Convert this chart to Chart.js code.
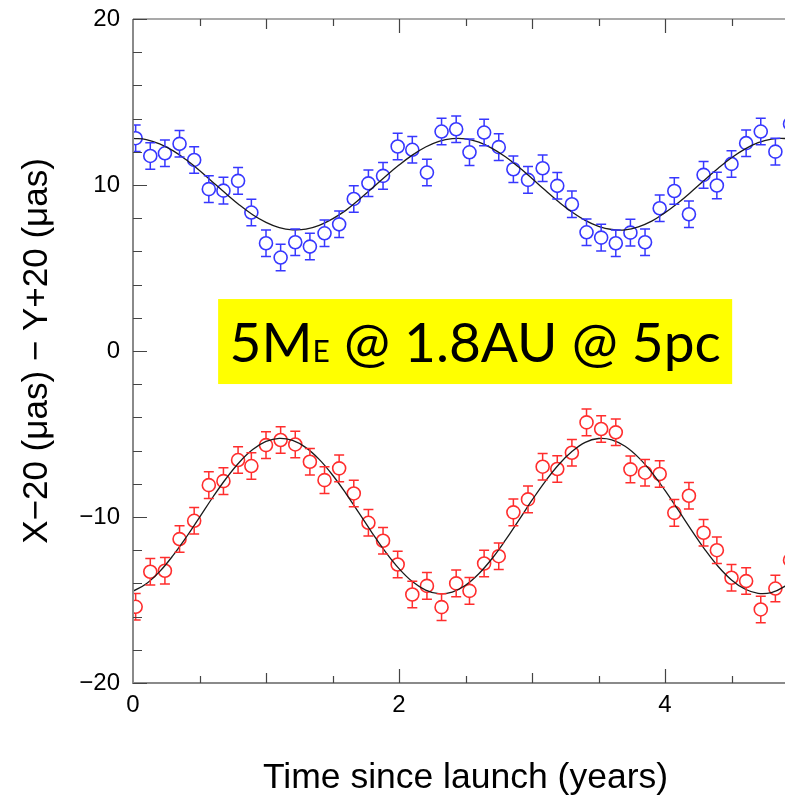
<!DOCTYPE html>
<html>
<head>
<meta charset="utf-8">
<title>Astrometric signal 5ME @ 1.8AU @ 5pc</title>
<script src="https://cdn.jsdelivr.net/npm/chart.js@4.4.1/dist/chart.umd.min.js"></script>
<style>
  html, body { margin: 0; padding: 0; background: #fff; overflow: hidden; }
  /* the figure's axis runs to 5 yr, a little past the right edge of the picture */
  #wrap { width: 785px; height: 803px; overflow: hidden; }
</style>
</head>
<body>
<div id="wrap"><canvas id="chart" width="798" height="803"></canvas></div>
<script>
// Epochs of the simulated observations (years since launch)
const times = [0.02, 0.13, 0.24, 0.35, 0.46, 0.57, 0.68, 0.79, 0.89, 1.00,
  1.11, 1.22, 1.33, 1.44, 1.55, 1.66, 1.77, 1.88, 1.99, 2.10,
  2.21, 2.32, 2.43, 2.53, 2.64, 2.75, 2.86, 2.97, 3.08, 3.19,
  3.30, 3.41, 3.52, 3.63, 3.74, 3.85, 3.96, 4.07, 4.18, 4.29,
  4.39, 4.50, 4.61, 4.72, 4.83, 4.94]

// Y+20 (blue, upper track)
const yPlus20 = [12.82, 11.75, 11.91, 12.48, 11.51, 9.75, 9.66, 10.25, 8.34, 6.49,
  5.63, 6.55, 6.29, 7.09, 7.63, 9.16, 10.10, 10.55, 12.32, 12.12,
  10.75, 13.22, 13.36, 11.97, 13.16, 12.28, 10.95, 10.31, 11.01, 9.95,
  8.84, 7.15, 6.83, 6.49, 7.13, 6.55, 8.60, 9.64, 8.24, 10.61,
  9.97, 11.27, 12.52, 13.22, 12.01, 13.68]

// X-20 (red, lower track)
const xMinus20 = [-15.41, -13.30, -13.24, -11.33, -10.23, -8.08, -7.84, -6.57, -6.93, -5.67,
  -5.36, -5.63, -6.67, -7.78, -7.07, -8.58, -10.35, -11.43, -12.86, -14.67,
  -14.15, -15.43, -14.00, -14.45, -12.80, -12.36, -9.72, -8.94, -6.97, -7.11,
  -6.13, -4.30, -4.70, -4.90, -7.13, -7.33, -7.41, -9.75, -8.72, -10.95,
  -12.00, -13.66, -13.86, -15.57, -14.31, -12.60]

// measurement error (μas), same for every point
const errSize = 0.8

// fitted orbit curves, every 0.1 yr
const fitTimes = [0.0, 0.1, 0.2, 0.3, 0.4, 0.5, 0.6, 0.7, 0.8, 0.9, 1.0,
  1.1, 1.2, 1.3, 1.4, 1.5, 1.6, 1.7, 1.8, 1.9, 2.0,
  2.1, 2.2, 2.3, 2.4, 2.5, 2.6, 2.7, 2.8, 2.9, 3.0,
  3.1, 3.2, 3.3, 3.4, 3.5, 3.6, 3.7, 3.8, 3.9, 4.0,
  4.1, 4.2, 4.3, 4.4, 4.5, 4.6, 4.7, 4.8, 4.9, 5.0]
const yFit = [12.81, 12.74, 12.48, 12.07, 11.52, 10.88, 10.17, 9.47, 8.80, 8.21, 7.75,
  7.43, 7.30, 7.34, 7.57, 7.96, 8.47, 9.12, 9.82, 10.53, 11.20,
  11.80, 12.29, 12.63, 12.79, 12.78, 12.58, 12.21, 11.70, 11.08, 10.39,
  9.68, 8.99, 8.37, 7.87, 7.51, 7.32, 7.30, 7.48, 7.82, 8.33,
  8.93, 9.61, 10.32, 11.01, 11.64, 12.16, 12.55, 12.76, 12.80, 12.66]
const xFit = [-14.47, -14.02, -13.29, -12.33, -11.22, -10.02, -8.81, -7.68, -6.70, -5.94, -5.45,
  -5.26, -5.39, -5.82, -6.53, -7.47, -8.57, -9.77, -10.98, -12.12, -13.11,
  -13.89, -14.40, -14.62, -14.52, -14.11, -13.42, -12.50, -11.40, -10.20, -8.99,
  -7.85, -6.85, -6.06, -5.50, -5.27, -5.35, -5.74, -6.41, -7.31, -8.40,
  -9.59, -10.80, -11.96, -12.98, -13.79, -14.34, -14.60, -14.55, -14.18, -13.54]

const xTickLabels = [0, 2, 4]
const yTickLabels = [-20, -10, 0, 10, 20]

const BLUE = 'rgb(55, 55, 255)'
const RED = 'rgb(255, 45, 45)'
const FONT = "'Liberation Sans', Helvetica, Arial, sans-serif"

Chart.defaults.font.family = FONT
Chart.defaults.color = '#000'

const toXY = (xs, ys) => xs.map((t, i) => ({ x: t, y: ys[i] }))

// error bars drawn from the circle edge outward, with caps
const errorBars = {
  id: 'errorBars',
  afterDatasetsDraw(chart) {
    const { ctx, scales: { y } } = chart
    chart.data.datasets.forEach((ds, di) => {
      if (!ds.errorBar) return
      const meta = chart.getDatasetMeta(di)
      ctx.save()
      ctx.beginPath()
      ctx.rect(chart.chartArea.left, 0, chart.chartArea.right - chart.chartArea.left, chart.height)
      ctx.clip()
      ctx.strokeStyle = ds.borderColor
      ctx.lineWidth = 1.5
      meta.data.forEach((pt, i) => {
        const v = ds.data[i].y
        const yt = y.getPixelForValue(v + ds.errorBar)
        const yb = y.getPixelForValue(v - ds.errorBar)
        const r = ds.pointRadius
        ctx.beginPath()
        ctx.moveTo(pt.x, pt.y - r); ctx.lineTo(pt.x, yt)
        ctx.moveTo(pt.x, pt.y + r); ctx.lineTo(pt.x, yb)
        ctx.moveTo(pt.x - 5, yt); ctx.lineTo(pt.x + 5, yt)
        ctx.moveTo(pt.x - 5, yb); ctx.lineTo(pt.x + 5, yb)
        ctx.stroke()
      })
      ctx.restore()
    })
  }
}

// plot frame with inward ticks
const frame = {
  id: 'frame',
  afterDraw(chart) {
    const { ctx, chartArea: a, scales: { x, y } } = chart
    ctx.save()
    ctx.strokeStyle = '#8a8a8a'
    ctx.lineWidth = 2
    ctx.beginPath()
    ctx.moveTo(a.left, a.top); ctx.lineTo(a.left, a.bottom); ctx.lineTo(a.right, a.bottom)
    ctx.stroke()
    ctx.strokeStyle = '#555'
    ctx.lineWidth = 1.2
    ctx.beginPath()
    ctx.moveTo(a.left, a.top); ctx.lineTo(a.right, a.top)
    ctx.stroke()

    ctx.strokeStyle = '#444'
    ctx.lineWidth = 1.2
    ctx.beginPath()
    for (let v = -20; v <= 20; v += 2) {
      const py = Math.round(y.getPixelForValue(v)) + 0.5
      const len = v % 10 === 0 ? 14 : 9
      ctx.moveTo(a.left, py); ctx.lineTo(a.left + len, py)
    }
    for (let v = 0.5; v <= 4.9; v += 0.5) {
      const px = Math.round(x.getPixelForValue(v)) + 0.5
      const len = v % 2 === 0 ? 14 : (v % 1 === 0 ? 10 : 7)
      ctx.moveTo(px, a.bottom); ctx.lineTo(px, a.bottom - len)
      ctx.moveTo(px, a.top); ctx.lineTo(px, a.top + len)
    }
    ctx.stroke()
    ctx.restore()
  }
}

// yellow caption box
const caption = {
  id: 'caption',
  afterDraw(chart) {
    const { ctx, scales: { x, y } } = chart
    const left = x.getPixelForValue(0.64)
    const right = x.getPixelForValue(4.505)
    const top = y.getPixelForValue(3.13)
    const bottom = y.getPixelForValue(-1.99)
    ctx.save()
    ctx.fillStyle = '#ffff00'
    ctx.fillRect(left, top, right - left, bottom - top)
    const big = "55px Lato, 'Open Sans', sans-serif"
    const small = "30px Lato, 'Open Sans', sans-serif"
    const parts = [['5M', big], ['E', small], [' @ 1.8AU @ 5pc', big]]
    let total = 0
    const widths = parts.map(([t, f]) => { ctx.font = f; const w = ctx.measureText(t).width; total += w; return w })
    let px = (left + right) / 2 - total / 2
    const base = (top + bottom) / 2 + 20
    ctx.fillStyle = '#000'
    ctx.textBaseline = 'alphabetic'
    parts.forEach(([t, f], i) => {
      ctx.font = f
      ctx.fillText(t, px, base)
      px += widths[i]
    })
    ctx.restore()
  }
}

const ctx = document.getElementById('chart').getContext('2d')
new Chart(ctx, {
  type: 'scatter',
  data: {
    datasets: [
      {
        label: 'Y+20 fit',
        data: toXY(fitTimes, yFit),
        showLine: true,
        borderColor: '#1a1a1a',
        borderWidth: 1.3,
        pointRadius: 0,
        tension: 0.4
      },
      {
        label: 'X-20 fit',
        data: toXY(fitTimes, xFit),
        showLine: true,
        borderColor: '#1a1a1a',
        borderWidth: 1.3,
        pointRadius: 0,
        tension: 0.4
      },
      {
        label: 'Y+20',
        data: toXY(times, yPlus20),
        borderColor: BLUE,
        backgroundColor: 'rgba(0,0,0,0)',
        pointRadius: 6.5,
        pointBorderWidth: 1.6,
        errorBar: errSize
      },
      {
        label: 'X-20',
        data: toXY(times, xMinus20),
        borderColor: RED,
        backgroundColor: 'rgba(0,0,0,0)',
        pointRadius: 6.5,
        pointBorderWidth: 1.6,
        errorBar: errSize
      }
    ]
  },
  options: {
    responsive: false,
    animation: false,
    devicePixelRatio: 1,
    layout: { autoPadding: false, padding: { top: 19, left: 0, right: 0, bottom: 0 } },
    plugins: { legend: { display: false }, tooltip: { enabled: false } },
    scales: {
      x: {
        type: 'linear',
        min: 0,
        max: 5,
        afterBuildTicks: s => { s.ticks = xTickLabels.map(v => ({ value: v })) },
        afterFit: s => { s.height = 120; s.paddingLeft = 0; s.paddingRight = 0 },
        grid: { display: false, drawTicks: false },
        border: { display: false },
        ticks: { font: { size: 24 }, color: '#000', padding: 8, maxRotation: 0 },
        title: {
          display: true,
          text: 'Time since launch (years)',
          font: { size: 35.5 },
          color: '#000',
          padding: { top: 0, bottom: 3 }
        }
      },
      y: {
        type: 'linear',
        min: -20,
        max: 20,
        afterBuildTicks: s => { s.ticks = yTickLabels.map(v => ({ value: v })) },
        afterFit: s => { s.width = 133; s.paddingTop = 0; s.paddingBottom = 0 },
        grid: { display: false, drawTicks: false },
        border: { display: false },
        ticks: {
          font: { size: 24 },
          color: '#000',
          padding: 13,
          callback: v => (v < 0 ? '\u2212' + Math.abs(v) : String(v))
        },
        title: {
          display: true,
          text: 'X\u221220 (\u03bcas) \u2212 Y+20 (\u03bcas)',
          font: { size: 35 },
          color: '#000',
          padding: { top: 16, bottom: 0 }
        }
      }
    }
  },
  plugins: [errorBars, frame, caption]
})
</script>
</body>
</html>
